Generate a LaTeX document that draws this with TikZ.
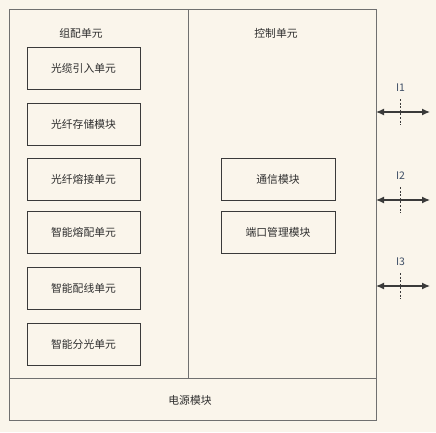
\documentclass[tikz,border=0pt]{standalone}
\usepackage{xcolor}
\usepackage{fontspec}
\usepackage{tikz}
\usetikzlibrary{arrows.meta}
\setmainfont{Noto Sans CJK SC}
\definecolor{bgcream}{HTML}{FAF5EB}
\definecolor{framegray}{HTML}{707070}
\definecolor{boxgray}{HTML}{3A3A3A}
\definecolor{txtgray}{HTML}{2E2E2E}
\definecolor{portblue}{HTML}{3E4E66}
\tikzset{
  unit/.style={draw=boxgray,line width=0.9,minimum width=113,minimum height=42,inner sep=0pt,text=txtgray,font=\fontsize{10.8}{12}\selectfont},
  lbl/.style={inner sep=0.75pt,text=txtgray,font=\fontsize{10.8}{12}\selectfont},
  portlbl/.style={inner sep=0.75pt,text=portblue,font=\fontsize{10.5}{12}\selectfont},
}
\begin{document}
\begin{tikzpicture}[x=1pt,y=1pt,yscale=-1,xscale=1]
\fill[bgcream] (0,0) rectangle (436,432);
\useasboundingbox (0,0) rectangle (436,432);
% frame
\draw [framegray,line width=0.9] (9,9) rectangle (376,420);
\draw [framegray,line width=0.9] (188,9) -- (188,378);
\draw [framegray,line width=0.9] (9,378) -- (376,378);
%Text
\node [lbl] (zp) at (81,33) {组配单元};
\node [lbl] (kz) at (276,33) {控制单元};
\node [lbl] (dy) at (190,400) {电源模块};
% left units
\node [unit] (u1) at (83.5,68) {光缆引入单元};
\node [unit] (u2) at (83.5,124) {光纤存储模块};
\node [unit] (u3) at (83.5,179) {光纤熔接单元};
\node [unit] (u4) at (83.5,232) {智能熔配单元};
\node [unit] (u5) at (83.5,288) {智能配线单元};
\node [unit] (u6) at (83.5,344.5) {智能分光单元};
% right units
\node [unit,minimum width=114] (tx) at (278,179) {通信模块};
\node [unit,minimum width=114] (dk) at (278,232) {端口管理模块};
% ports
\foreach \n/\y in {1/112,2/200,3/286} {
  \coordinate (p\n l) at (376,\y);
  \coordinate (p\n r) at (430,\y);
  \draw [boxgray,line width=1.3,{Latex[length=8,width=7]}-{Latex[length=8,width=7]}] (p\n l) -- (p\n r);
  \draw [boxgray,line width=1.1,dash pattern=on 2pt off 1.6pt] (400.5,\y-13) -- (400.5,\y+13);
  \node [portlbl] (i\n) at (400.5,\y-24) {I\n};
}
\end{tikzpicture}
\end{document}
